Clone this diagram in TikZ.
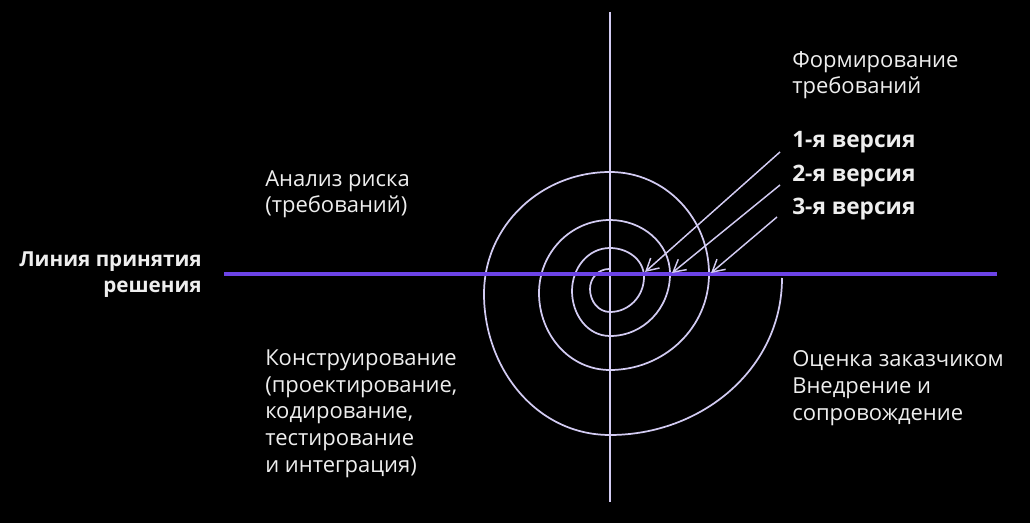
\documentclass[tikz,border=0pt]{standalone}
\usepackage{fontspec}
\setmainfont{Open Sans}
\definecolor{SpiralLilac}{HTML}{D2CBF2}
\definecolor{DecisionViolet}{HTML}{6C43E6}
\definecolor{TextWhite}{HTML}{EEEEEE}
\usetikzlibrary{arrows.meta, positioning}
\tikzset{
    phasetext/.style={
        text=TextWhite,
        font=\fontsize{16.5}{20}\selectfont,
        align=left,
        anchor=base west,
        inner sep=0pt
    },
    versiontext/.style={
        text=TextWhite,
        font=\fontsize{17}{20}\selectfont\bfseries,
        anchor=base west,
        inner sep=0pt
    },
    axisline/.style={
        SpiralLilac,
        line width=1.3pt
    },
    decisionline/.style={
        DecisionViolet,
        line width=3pt
    },
    versionarrow/.style={
        -{Straight Barb[length=9pt, width=10pt]},
        SpiralLilac,
        line width=1.1pt
    }
}
\begin{document}
\begin{tikzpicture}[x=0.75pt, y=-0.75pt]
        % background and frame
        \fill[black] (0,0) rectangle (1030,523);
        \useasboundingbox (0,0) rectangle (1030,523);

        % axes
        \coordinate (axtop) at (610,12);
        \coordinate (axbot) at (610,502);
        \coordinate (dlleft) at (224,274);
        \coordinate (dlright) at (997,274);
        \draw[axisline] (axtop) -- (axbot);

        % spiral
        \draw[axisline] (609,269)
            to[out=180,in=90] (590,289) to[out=270,in=180] (610,312)
            to[out=0,in=270] (644,277) to[out=90,in=0] (610,248)
            to[out=180,in=90] (572,291) to[out=270,in=180] (610,336)
            to[out=0,in=270] (670,274) to[out=90,in=0] (610,220)
            to[out=180,in=90] (539,293) to[out=270,in=180] (610,370)
            to[out=0,in=270] (709,274) to[out=90,in=0] (610,172)
            to[out=180,in=90] (484,294) to[out=270,in=180] (610,435)
            to[out=0,in=270] (782,278);

        \draw[decisionline] (dlleft) -- (dlright);

        % quadrant texts (base = last line)
        \node[phasetext] (req) at (792,94) {Формирование\\требований};
        \node[phasetext] (risk) at (265,213) {Анализ риска\\(требований)};
        \node[phasetext] (build) at (265,472) {Конструирование\\(проектирование,\\кодирование,\\тестирование\\и интеграция)};
        \node[phasetext] (eval) at (792,420) {Оценка заказчиком\\Внедрение и\\сопровождение};
        \node[phasetext, font=\fontsize{15.5}{20}\selectfont\bfseries, align=right, anchor=base east] (decision) at (202,293) {Линия принятия\\решения};

        % versions
        \node[versiontext] (v1) at (792,148) {1-я версия};
        \node[versiontext] (v2) at (792,182) {2-я версия};
        \node[versiontext] (v3) at (792,215) {3-я версия};

        \coordinate (v1tip) at (645,272);
        \coordinate (v2tip) at (672,273);
        \coordinate (v3tip) at (711,273);
        \coordinate (v1tail) at (780,152);
        \coordinate (v2tail) at (780,185);
        \coordinate (v3tail) at (777,217);
        \draw[versionarrow] (v1tail) -- (v1tip);
        \draw[versionarrow] (v2tail) -- (v2tip);
        \draw[versionarrow] (v3tail) -- (v3tip);
    \end{tikzpicture}
\end{document}
